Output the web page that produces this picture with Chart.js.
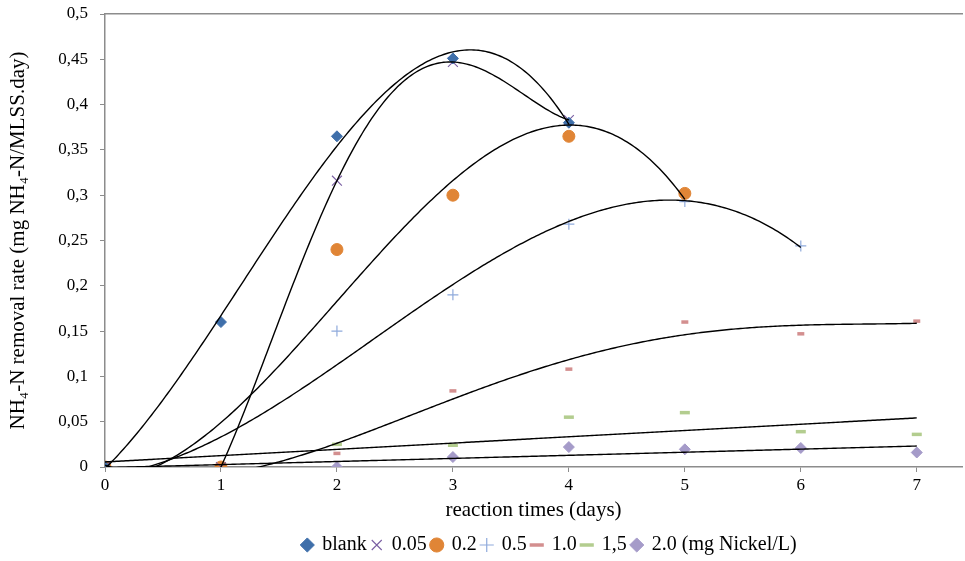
<!DOCTYPE html>
<html>
<head>
<meta charset="utf-8">
<script src="https://cdn.jsdelivr.net/npm/chart.js@4.4.1/dist/chart.umd.min.js"></script>
<style>
  html, body { margin: 0; padding: 0; background: #fff; }
  #wrap { width: 965px; height: 561px; }
</style>
</head>
<body>
<div id="wrap"><canvas id="removalChart" width="965" height="561"></canvas></div>
<script>
// reaction time (days) and measured removal rates per nickel dose
const days = [0, 1, 2, 3, 4, 5, 6, 7];
const blank = [0, 0.16, 0.365, 0.451, 0.38];
const ni005 = [0, 0, 0.316, 0.447, 0.383];
const ni02 = [0, 0, 0.24, 0.30, 0.365, 0.302];
const ni05 = [0, 0, 0.15, 0.19, 0.268, 0.293, 0.244];
const ni10 = [0, 0, 0.015, 0.084, 0.108, 0.160, 0.147, 0.161];
const ni15 = [0, 0, 0.025, 0.024, 0.055, 0.060, 0.039, 0.036];
const ni20 = [0, 0, 0, 0.011, 0.022, 0.0195, 0.021, 0.016];
const labels = ['blank', '0.05', '0.2', '0.5', '1.0', '1,5', '2.0 (mg Nickel/L)'];
// polynomial order of the trend line for each series
const trendOrder = [3, 4, 3, 3, 4, 1, 1];
const yTicks = [0, 0.05, 0.1, 0.15, 0.2, 0.25, 0.3, 0.35, 0.4, 0.45, 0.5];

const series = [blank, ni005, ni02, ni05, ni10, ni15, ni20];
const toPoints = vals => vals.map((v, i) => ({ x: days[i], y: v }));

// least squares polynomial fit (like an Excel trendline)
function polyFit(xs, ys, order) {
    const n = order + 1;
    const A = [];
    for (let r = 0; r < n; r++) {
        A.push([]);
        for (let c = 0; c < n; c++) {
            A[r].push(xs.reduce((s, x) => s + Math.pow(x, r + c), 0));
        }
        A[r].push(xs.reduce((s, x, i) => s + Math.pow(x, r) * ys[i], 0));
    }
    for (let i = 0; i < n; i++) {
        let p = i;
        for (let k = i + 1; k < n; k++) if (Math.abs(A[k][i]) > Math.abs(A[p][i])) p = k;
        [A[i], A[p]] = [A[p], A[i]];
        for (let k = i + 1; k < n; k++) {
            const f = A[k][i] / A[i][i];
            for (let c = i; c <= n; c++) A[k][c] -= f * A[i][c];
        }
    }
    const coef = new Array(n).fill(0);
    for (let i = n - 1; i >= 0; i--) {
        let s = A[i][n];
        for (let c = i + 1; c < n; c++) s -= A[i][c] * coef[c];
        coef[i] = s / A[i][i];
    }
    return coef;
}

const trendlines = {
    id: 'trendlines',
    afterLayout(chart) {
        // legend sits a bit right of the plot centre in the original
        chart.legend.left += 16;
        chart.legend.right += 16;
    },
    afterDatasetsDraw(chart) {
        const ctx = chart.ctx;
        const xs = chart.scales.x, ys = chart.scales.y;
        const area = chart.chartArea;
        ctx.save();
        ctx.beginPath();
        ctx.rect(area.left, area.top, area.right - area.left, area.bottom - area.top);
        ctx.clip();
        ctx.strokeStyle = '#000';
        ctx.lineWidth = 1.4;
        series.forEach((vals, si) => {
            const xv = days.slice(0, vals.length);
            const coef = polyFit(xv, vals, trendOrder[si]);
            const xmax = xv[xv.length - 1];
            ctx.beginPath();
            for (let t = 0; t <= xmax + 1e-9; t += 0.02) {
                const y = coef.reduce((s, c, k) => s + c * Math.pow(t, k), 0);
                const px = xs.getPixelForValue(t), py = ys.getPixelForValue(y);
                if (t === 0) ctx.moveTo(px, py); else ctx.lineTo(px, py);
            }
            ctx.stroke();
        });
        ctx.restore();
    }
};

const font = 'Liberation Serif';
const axisGray = '#8c8c8c';

const ctx = document.getElementById('removalChart').getContext('2d');
const chart = new Chart(ctx, {
    type: 'scatter',
    data: {
        datasets: [
            { label: labels[0], data: toPoints(blank), pointStyle: 'rectRot', pointRadius: 5.5,
              backgroundColor: '#3f6faa', borderColor: '#3f6faa', borderWidth: 1 },
            { label: labels[1], data: toPoints(ni005), pointStyle: 'crossRot', pointRadius: 7,
              backgroundColor: '#7a5fa3', borderColor: '#7a5fa3', borderWidth: 1.1 },
            { label: labels[2], data: toPoints(ni02), pointStyle: 'circle', pointRadius: 6,
              backgroundColor: '#e08536', borderColor: '#e08536', borderWidth: 1 },
            { label: labels[3], data: toPoints(ni05), pointStyle: 'cross', pointRadius: 5.5,
              backgroundColor: '#8faadc', borderColor: '#8faadc', borderWidth: 1.2 },
            { label: labels[4], data: toPoints(ni10), pointStyle: 'line', pointRadius: 3.5,
              backgroundColor: '#d38f8f', borderColor: '#d38f8f', borderWidth: 3.5 },
            { label: labels[5], data: toPoints(ni15), pointStyle: 'line', pointRadius: 5,
              backgroundColor: '#b3cd8f', borderColor: '#b3cd8f', borderWidth: 3.5 },
            { label: labels[6], data: toPoints(ni20), pointStyle: 'rectRot', pointRadius: 5.5,
              backgroundColor: '#a59bc9', borderColor: '#a59bc9', borderWidth: 1 }
        ]
    },
    options: {
        responsive: false,
        animation: false,
        layout: { autoPadding: false, padding: { top: 14, right: 3, left: 0, bottom: -4 } },
        plugins: {
            legend: {
                position: 'bottom',
                fullSize: false,
                labels: {
                    usePointStyle: true,
                    boxWidth: 10,
                    boxHeight: 10,
                    padding: 5,
                    color: '#000',
                    font: { family: font, size: 20 }
                }
            },
            tooltip: { enabled: false }
        },
        scales: {
            x: {
                type: 'linear',
                min: 0,
                max: 7.39,
                afterBuildTicks: s => { s.ticks = days.map(v => ({ value: v })); },
                afterFit: s => { s.height = 63; s.paddingLeft = 0; s.paddingRight = 0; },
                grid: { drawOnChartArea: false, drawTicks: true, tickLength: 5, color: axisGray },
                border: { color: axisGray, width: 1.5 },
                ticks: { color: '#000', padding: 3, font: { family: font, size: 17 } },
                title: { display: true, text: 'reaction times (days)', color: '#000',
                         padding: { top: 0, bottom: 7 }, font: { family: font, size: 21 } }
            },
            x2: {
                type: 'linear',
                position: 'top',
                min: 0,
                max: 7.39,
                afterFit: s => { s.height = 0; s.paddingLeft = 0; s.paddingRight = 0; },
                grid: { display: false },
                border: { color: axisGray, width: 1.5 },
                ticks: { display: false }
            },
            y: {
                min: 0,
                max: 0.5,
                afterBuildTicks: s => { s.ticks = yTicks.map(v => ({ value: v })); },
                afterFit: s => { s.width = 105; s.paddingTop = 0; s.paddingBottom = 0; },
                grid: { drawOnChartArea: false, drawTicks: true, tickLength: 5, color: axisGray },
                border: { color: axisGray, width: 1.5 },
                ticks: {
                    color: '#000',
                    padding: 12,
                    font: { family: font, size: 17 },
                    callback: v => (Math.round(v * 100) / 100).toString().replace('.', ',')
                },
                title: { display: true, text: 'NH\u2084-N removal rate (mg NH\u2084-N/MLSS.day)', color: '#000',
                         padding: { top: 6, bottom: 0 }, font: { family: font, size: 21 } }
            }
        }
    },
    plugins: [trendlines]
});
</script>
</body>
</html>
